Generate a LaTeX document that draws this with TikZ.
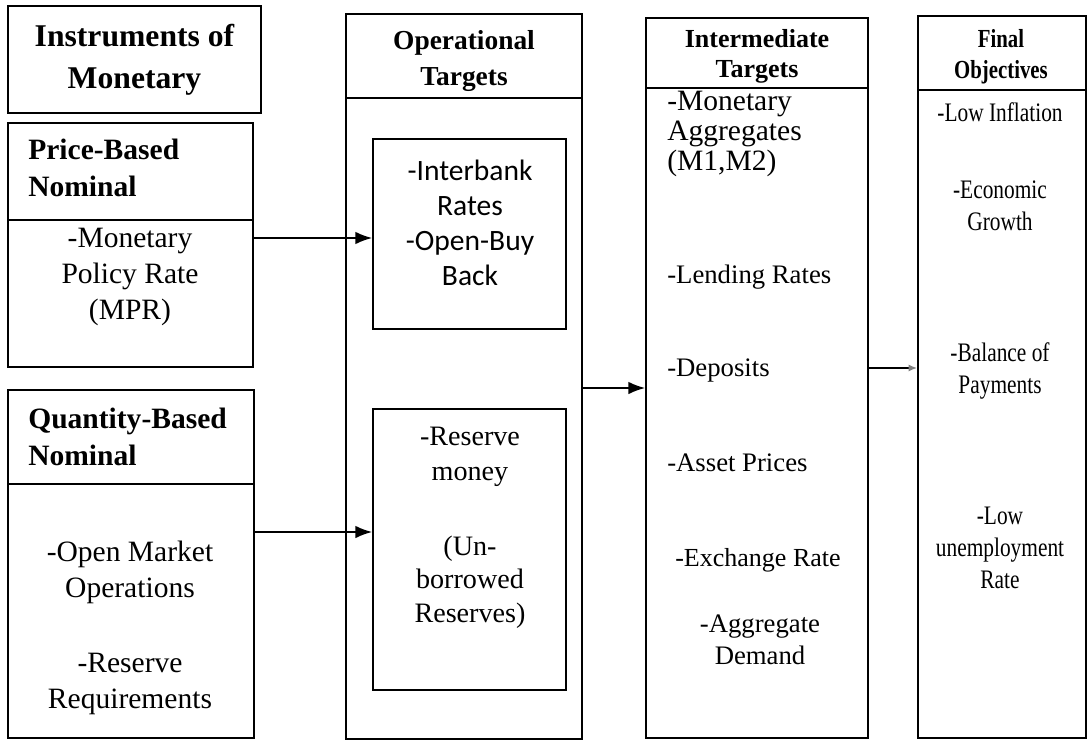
\documentclass[tikz,border=0pt]{standalone}
\usepackage{fontspec}
\setmainfont{Liberation Serif}
\newfontfamily\calfont{Carlito}
\newfontfamily\narrowfont[FakeStretch=0.8]{Liberation Serif}
\usetikzlibrary{fit,arrows.meta}

\tikzset{
  box/.style={draw, line width=1.2pt, inner sep=0pt},
  body/.style={align=center, inner sep=0pt, font=\fontsize{21}{25.5}\selectfont},
  head/.style={align=center, inner sep=0pt, font=\bfseries\fontsize{21}{26}\selectfont},
  slim/.style={align=center, inner sep=0pt, font=\narrowfont\fontsize{19}{22.5}\selectfont},
  arr/.style={-{Latex[length=12pt,width=9pt]}, line width=1.2pt},
}

\begin{document}
\begin{tikzpicture}[x=0.025cm, y=-0.025cm]
  \useasboundingbox (0,0) rectangle (1091,741);

  % Instruments
  \node[box, fit={(8,6) (261,113)}] (instr) {};
  \node[head, font=\bfseries\fontsize{22.5}{30}\selectfont] (instrT) at (instr.center) {Instruments of\\Monetary};

  % Price-based box
  \node[box, fit={(8,123) (253,220)}] (priceH) {};
  \node[box, fit={(8,220) (253,367)}] (price) {};
  \node[head, align=left, anchor=west] (priceT) at (28,168) {Price-Based\\Nominal};
  \node[body] (priceB) at (130,277) {-Monetary\\Policy Rate\\(MPR)};

  % Quantity-based box
  \node[box, fit={(8,390) (254,484)}] (qtyH) {};
  \node[box, fit={(8,484) (254,738)}] (qty) {};
  \node[head, align=left, anchor=west] (qtyT) at (28,437) {Quantity-Based\\Nominal};
  \node[body] (qtyB1) at (130,572) {-Open Market\\Operations};
  \node[body] (qtyB2) at (130,684) {-Reserve\\Requirements};

  % Operational targets
  \node[box, fit={(346,14) (582,98)}] (opH) {};
  \node[box, fit={(346,98) (582,739)}] (op) {};
  \node[head, font=\bfseries\fontsize{19.5}{25}\selectfont] (opT) at (464,61) {Operational\\Targets};
  \node[box, fit={(373,139) (566,329)}] (ib) {};
  \node[body, font=\calfont\fontsize{21}{25}\selectfont] (ibT) at (470,223) {-Interbank\\Rates\\-Open-Buy\\Back};
  \node[box, fit={(373,409) (566,690)}] (rm) {};
  \node[body, font=\fontsize{20}{25}\selectfont] (rmT1) at (470,457) {-Reserve\\money};
  \node[body, font=\fontsize{20}{24}\selectfont] (rmT2) at (470,582) {(Un-\\borrowed\\Reserves)};

  % Intermediate targets
  \node[box, fit={(646,18) (868,88)}] (imH) {};
  \node[box, fit={(646,88) (868,738)}] (im) {};
  \node[head, font=\bfseries\fontsize{18.5}{21.5}\selectfont] (imT) at (757,56) {Intermediate\\Targets};
  \node[body, align=left, anchor=west, font=\fontsize{21}{21.5}\selectfont] (imB1) at (667,134) {-Monetary\\Aggregates\\(M1,M2)};
  \node[body, anchor=west, font=\fontsize{19}{23}\selectfont] (imB2) at (667,277) {-Lending Rates};
  \node[body, anchor=west, font=\fontsize{19}{23}\selectfont] (imB3) at (667,370) {-Deposits};
  \node[body, anchor=west, font=\fontsize{19}{23}\selectfont] (imB4) at (667,463) {-Asset Prices};
  \node[body, anchor=west, font=\fontsize{18.5}{23}\selectfont] (imB5) at (675,560) {-Exchange Rate};
  \node[body, font=\fontsize{19}{22.5}\selectfont] (imB6) at (760,640) {-Aggregate\\Demand};

  % Final objectives
  \node[box, fit={(918,16) (1086,90)}] (fnH) {};
  \node[box, fit={(918,90) (1086,738)}] (fn) {};
  \node[slim, font=\narrowfont\bfseries\fontsize{18.5}{22}\selectfont] (fnT) at (1001,57) {Final\\Objectives};
  \node[slim] (fnB1) at (1000,112) {-Low Inflation};
  \node[slim] (fnB2) at (1000,206) {-Economic\\Growth};
  \node[slim] (fnB3) at (1000,371) {-Balance of\\Payments};
  \node[slim] (fnB4) at (1000,548) {-Low\\unemployment\\Rate};

  % Connectors
  \coordinate (y1) at (0,238);
  \coordinate (y2) at (0,532);
  \coordinate (y3) at (0,388);
  \coordinate (y4) at (0,368);
  \draw[arr] (price.east |- y1) -- (ib.west |- y1);
  \draw[arr] (qty.east |- y2) -- (rm.west |- y2);
  \draw[arr] (op.east |- y3) -- (im.west |- y3);
  \draw[line width=1.2pt, -{Latex[length=6pt,width=5pt,color=gray]}] (im.east |- y4) -- (fn.west |- y4);
\end{tikzpicture}
\end{document}
